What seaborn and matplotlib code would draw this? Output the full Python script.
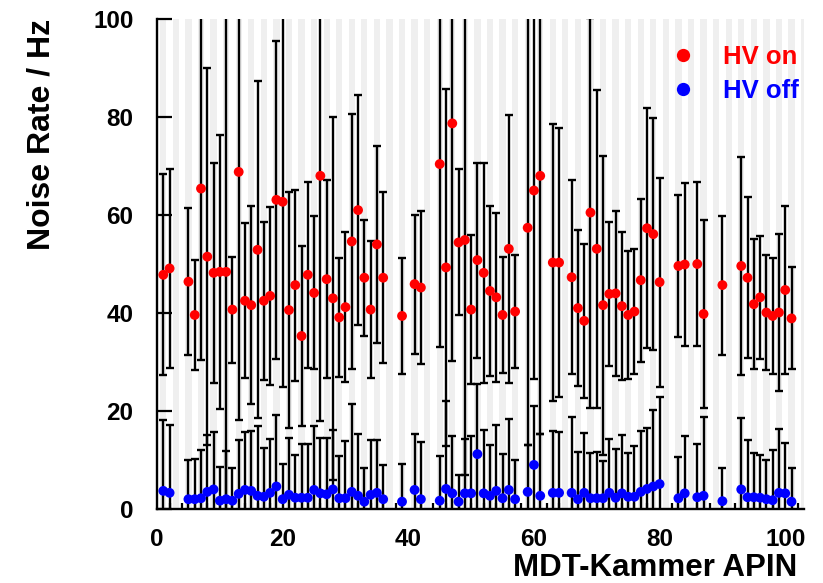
import numpy as np
import pandas as pd
import matplotlib
matplotlib.use('Agg')
import matplotlib.pyplot as plt
import seaborn as sns
from matplotlib.ticker import MultipleLocator

nan = np.nan

# channel number 1..101, NaN where the channel has no measurement
channel = list(range(1, 102))

hv_on = [47.8, 49.1, nan, nan, 46.4, 39.6, 65.4, 51.5, 48.2, 48.4,
         48.4, 40.7, 68.8, 42.5, 41.6, 52.9, 42.5, 43.5, 63.1, 62.7,
         40.6, 45.7, 35.3, 47.8, 44.1, 68.0, 46.9, 43.0, 39.1, 41.2,
         54.6, 61.0, 47.2, 40.7, 54.0, 47.2, nan, nan, 39.4, nan,
         45.9, 45.2, nan, nan, 70.4, 49.3, 78.7, 54.4, 54.9, 40.7,
         50.8, 48.2, 44.5, 43.2, 39.6, 53.1, 40.3, nan, 57.4, 65.0,
         68.0, nan, 50.3, 50.3, nan, 47.3, 41.0, 38.4, 60.5, 53.1,
         41.6, 43.9, 44.0, 41.4, 39.6, 40.3, 46.7, 57.3, 56.1, 46.3,
         nan, nan, 49.6, 49.9, nan, 50.0, 39.8, nan, nan, 45.7,
         nan, nan, 49.6, 47.2, 41.8, 43.2, 40.1, 39.4, 40.1, 44.7,
         38.9]

hv_on_err = [20.5, 20.3, nan, nan, 15.0, 11.2, 35.0, 38.4, 22.5, 28.0,
             52.0, 10.8, 50.6, 15.8, 20.2, 34.4, 16.1, 18.2, 32.5, 37.7,
             24.0, 19.5, 18.4, 19.0, 15.6, 50.0, 20.2, 37.0, 12.2, 15.3,
             26.1, 23.5, 11.8, 13.9, 20.1, 17.4, nan, nan, 11.8, nan,
             14.2, 15.7, nan, nan, 37.4, 36.4, 48.4, 14.9, 48.0, 15.2,
             19.9, 22.5, 17.3, 17.3, 11.9, 27.3, 11.5, nan, 44.3, 38.5,
             52.6, nan, 28.2, 27.5, nan, 19.8, 15.9, 15.7, 39.8, 32.5,
             30.5, 14.7, 16.9, 15.1, 13.1, 12.7, 16.6, 24.5, 23.6, 21.3,
             nan, nan, 14.5, 16.6, nan, 16.8, 19.2, nan, nan, 14.2,
             nan, nan, 22.2, 16.4, 13.3, 12.5, 11.7, 11.8, 16.0, 17.2,
             10.4]

hv_off = [3.7, 3.3, nan, nan, 2.0, 2.0, 2.2, 3.5, 4.0, 1.7,
          2.0, 1.7, 3.1, 3.9, 3.7, 2.7, 2.5, 3.3, 4.6, 2.0,
          2.9, 2.3, 2.3, 2.3, 3.9, 3.2, 3.0, 4.0, 2.2, 2.2,
          3.5, 2.7, 1.5, 2.9, 3.3, 2.0, nan, nan, 1.5, nan,
          3.9, 2.0, nan, nan, 1.7, 4.1, 3.2, 1.5, 3.2, 3.2,
          11.2, 3.2, 2.7, 3.7, 2.2, 3.9, 2.0, nan, 3.5, 9.0,
          2.7, nan, 3.3, 3.3, nan, 3.3, 2.0, 3.3, 2.2, 2.2,
          2.2, 3.3, 2.3, 3.2, 2.5, 2.5, 3.5, 4.1, 4.6, 5.1,
          nan, nan, 2.2, 3.2, nan, 2.4, 2.7, nan, nan, 1.6,
          nan, nan, 4.0, 2.4, 2.4, 2.3, 2.0, 1.8, 3.3, 3.2,
          1.5]

hv_off_err = [14.5, 13.8, nan, nan, 8.1, 8.3, 9.8, 11.6, 11.8, 6.9,
              9.9, 6.6, 11.0, 11.9, 12.2, 14.2, 10.0, 10.9, 14.5, 7.2,
              11.5, 8.7, 10.9, 10.9, 13.0, 11.2, 11.4, 12.1, 8.7, 11.7,
              17.9, 12.7, 6.9, 11.2, 10.8, 7.0, nan, nan, 7.6, nan,
              11.5, 11.7, nan, nan, 9.2, 17.9, 11.6, 5.4, 11.0, 11.7,
              14.3, 12.9, 10.4, 13.4, 9.0, 14.5, 8.1, nan, 9.6, 12.0,
              12.7, nan, 12.6, 12.5, nan, 15.5, 9.7, 12.3, 9.3, 9.5,
              7.5, 10.9, 9.9, 11.9, 8.9, 10.4, 12.5, 12.5, 15.7, 17.8,
              nan, nan, 8.5, 11.6, nan, 10.9, 16.1, nan, nan, 6.7,
              nan, nan, 14.5, 11.7, 9.0, 8.7, 8.0, 10.2, 13.0, 10.2,
              6.9]

df = pd.concat([
    pd.DataFrame({'channel': channel, 'rate': hv_on, 'err': hv_on_err, 'state': 'HV on'}),
    pd.DataFrame({'channel': channel, 'rate': hv_off, 'err': hv_off_err, 'state': 'HV off'}),
]).dropna()

sns.set_style('white')
plt.rcParams['font.family'] = ['Liberation Sans', 'DejaVu Sans']
plt.rcParams['font.weight'] = 'bold'
plt.rcParams['text.color'] = 'black'
plt.rcParams['axes.labelcolor'] = 'black'
plt.rcParams['xtick.color'] = 'black'
plt.rcParams['ytick.color'] = 'black'

fig = plt.figure(figsize=(8.23, 5.83), dpi=100)
ax = fig.add_axes([0.1908, 0.1269, 0.7862, 0.8405])

# alternating grey bands, one per channel
for c in range(1, 104, 2):
    ax.axvspan(c - 0.5, c + 0.5, color='#efefef', lw=0, zorder=0)

ax.errorbar(df['channel'], df['rate'], yerr=df['err'], fmt='none',
            ecolor='black', elinewidth=1.7, capsize=3.1, capthick=1.7, zorder=2)

sns.scatterplot(data=df, x='channel', y='rate', hue='state',
                palette={'HV on': 'red', 'HV off': 'blue'},
                s=50, linewidth=0, zorder=3, ax=ax)

ax.set_xlim(0, 103)
ax.set_ylim(0, 100)
ax.xaxis.set_major_locator(MultipleLocator(20))
ax.xaxis.set_minor_locator(MultipleLocator(2))
ax.yaxis.set_major_locator(MultipleLocator(20))

for s in ['top', 'right']:
    ax.spines[s].set_visible(False)
for s in ['left', 'bottom']:
    ax.spines[s].set_linewidth(1.7)
    ax.spines[s].set_color('black')

ax.tick_params(axis='x', which='major', direction='in', length=8.6, width=1.6,
               pad=14, labelsize=17.5, color='black')
ax.tick_params(axis='x', which='minor', direction='in', length=4.3, width=1.6,
               color='black', bottom=True)
ax.tick_params(axis='y', which='major', direction='in', length=10.8, width=1.6,
               pad=17, labelsize=17.5, color='black', left=True)
for lab in ax.get_xticklabels() + ax.get_yticklabels():
    lab.set_fontweight('bold')

ax.set_xlabel('MDT-Kammer APIN', fontsize=22.5, fontweight='bold', loc='right')
ax.xaxis.set_label_coords(0.99, -0.09)
ax.set_ylabel('Noise Rate / Hz', fontsize=23, fontweight='bold', loc='top')
ax.yaxis.set_label_coords(-0.155, 1.0)

leg = ax.legend(frameon=False, loc='upper right', fontsize=18.5,
                bbox_to_anchor=(799 / 823, 1 - 45 / 583), bbox_transform=fig.transFigure,
                borderaxespad=0, borderpad=0, handlelength=1.0, handletextpad=1.05,
                labelspacing=0.38, markerscale=1.35,
                labelcolor=['red', 'blue'], prop={'weight': 'bold', 'size': 18.5})

fig.savefig('out.png', dpi=100)
